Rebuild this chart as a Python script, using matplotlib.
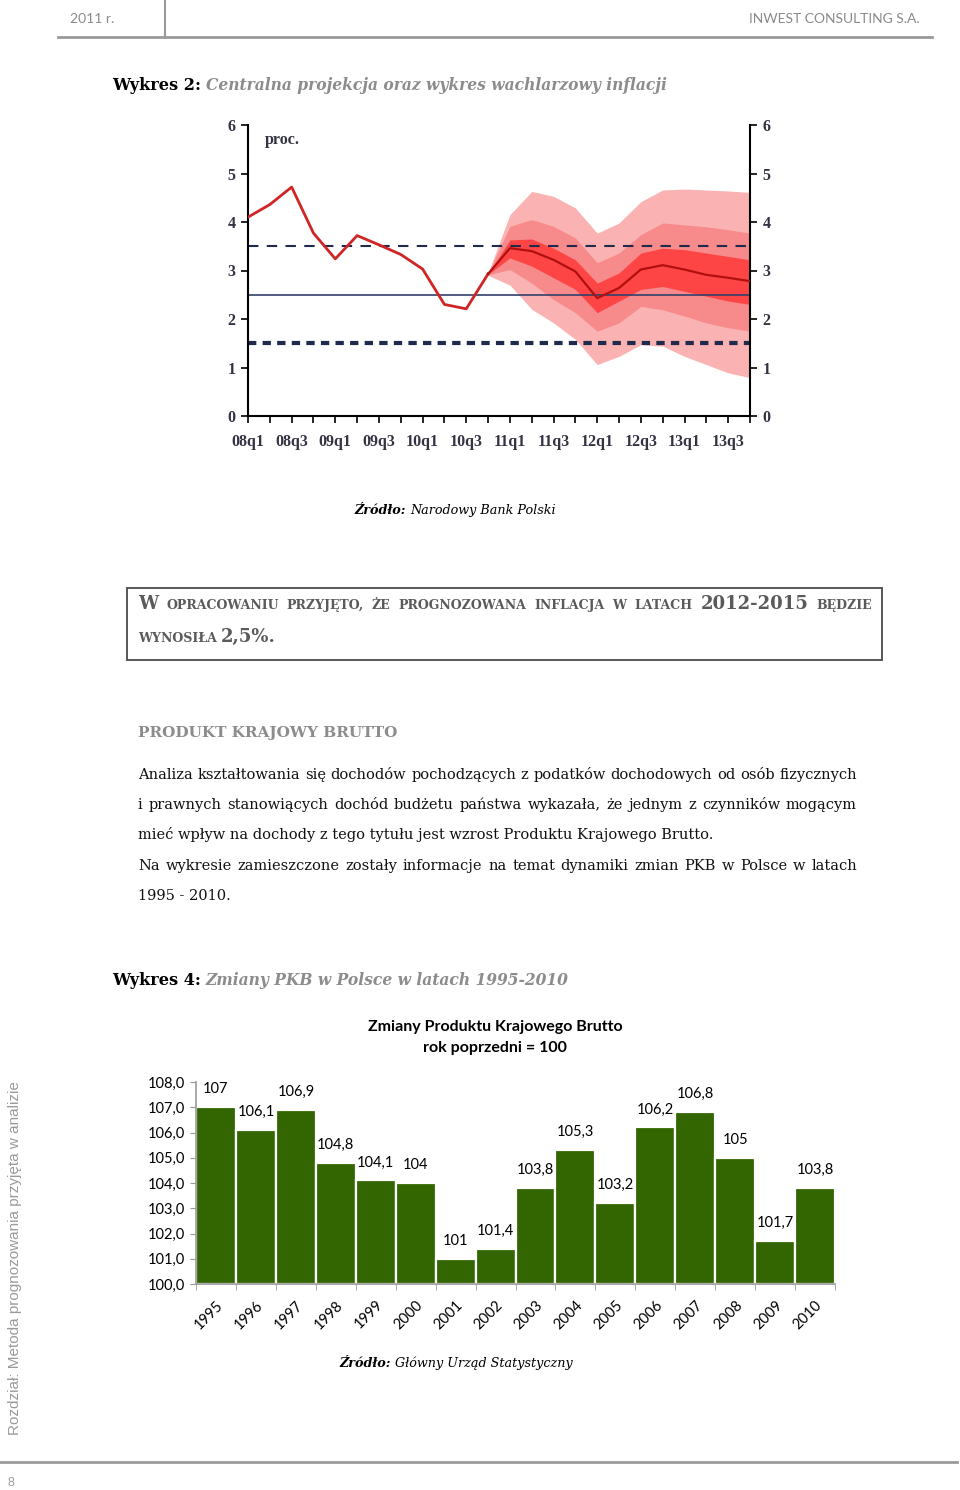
import matplotlib
matplotlib.use('Agg')
import matplotlib.pyplot as plt
import matplotlib.transforms as mtransforms
from matplotlib.patches import Rectangle
from matplotlib.lines import Line2D

# --- dane: wykres wachlarzowy inflacji (proc.) ---
kwartaly = ['08q1', '08q2', '08q3', '08q4', '09q1', '09q2', '09q3', '09q4',
            '10q1', '10q2', '10q3', '10q4', '11q1', '11q2', '11q3', '11q4',
            '12q1', '12q2', '12q3', '12q4', '13q1', '13q2', '13q3', '13q4']
inflacja = [4.1, 4.36, 4.72, 3.77, 3.24, 3.72, 3.53, 3.33, 3.03, 2.3, 2.21, 2.93]
# projekcja od 10q4 do 13q4
projekcja = [2.93, 3.46, 3.4, 3.22, 2.98, 2.43, 2.64, 3.02, 3.11, 3.02, 2.91, 2.85, 2.78]
pas_zew_gora = [2.95, 4.15, 4.63, 4.53, 4.29, 3.77, 3.98, 4.42, 4.66, 4.68, 4.66, 4.64, 4.61]
pas_zew_dol = [2.9, 2.7, 2.2, 1.92, 1.58, 1.06, 1.23, 1.47, 1.44, 1.23, 1.06, 0.89, 0.79]
pas_sr_gora = [2.94, 3.91, 4.05, 3.91, 3.67, 3.16, 3.36, 3.74, 3.98, 3.94, 3.9, 3.84, 3.77]
pas_sr_dol = [2.91, 3.02, 2.74, 2.4, 2.13, 1.75, 1.92, 2.26, 2.19, 2.06, 1.92, 1.82, 1.75]
pas_wew_gora = [2.93, 3.63, 3.65, 3.46, 3.22, 2.74, 2.95, 3.36, 3.46, 3.43, 3.36, 3.29, 3.22]
pas_wew_dol = [2.92, 3.26, 3.09, 2.85, 2.61, 2.13, 2.37, 2.61, 2.67, 2.57, 2.47, 2.37, 2.3]
cel_gorny, cel, cel_dolny = 3.5, 2.5, 1.5

# --- dane: PKB, rok poprzedni = 100 ---
lata = ['1995', '1996', '1997', '1998', '1999', '2000', '2001', '2002',
        '2003', '2004', '2005', '2006', '2007', '2008', '2009', '2010']
pkb = [107.0, 106.1, 106.9, 104.8, 104.1, 104.0, 101.0, 101.4,
       103.8, 105.3, 103.2, 106.2, 106.8, 105.0, 101.7, 103.8]

W, H = 960, 1490
fig = plt.figure(figsize=(W / 100, H / 100), dpi=100)
px = mtransforms.Affine2D().scale(1 / W, -1 / H).translate(0, 1) + fig.transFigure
SERIF = ['DejaVu Serif']
SANS = ['Lato', 'DejaVu Sans']


def box(x0, y0, x1, y1):
    return [x0 / W, 1 - y1 / H, (x1 - x0) / W, (y1 - y0) / H]


def runs(x, y, parts, ha='left'):
    # parts: (tekst, odstep_po, styl)
    r = fig.canvas.get_renderer()
    items = [fig.text(0, y, t, transform=px, va='baseline', **kw) for t, g, kw in parts]
    ws = [it.get_window_extent(r).width for it in items]
    total = sum(ws) + sum(g for t, g, kw in parts[:-1])
    if ha == 'center':
        x = x - total / 2
    for it, w, (t, g, kw) in zip(items, ws, parts):
        it.set_x(x)
        x += w + g


def justify(x0, x1, y, words, gap=None):
    r = fig.canvas.get_renderer()
    items = [fig.text(0, y, t, transform=px, va='baseline', **kw) for t, kw in words]
    ws = [it.get_window_extent(r).width for it in items]
    if gap is None:
        gap = (x1 - x0 - sum(ws)) / (len(ws) - 1)
    x = x0
    for it, w in zip(items, ws):
        it.set_x(x)
        x += w + gap


# --- naglowek strony ---
fig.add_artist(Line2D([58, 932], [37, 37], transform=px, color='#9a9a9a', lw=2))
fig.add_artist(Line2D([165, 165], [0, 37], transform=px, color='#9a9a9a', lw=1.5))
fig.text(70, 23, '2011 r.', transform=px, family=SANS, fontsize=10, color='#8a8a8a')
fig.text(920, 23, 'INWEST CONSULTING S.A.', transform=px, family=SANS, fontsize=10,
         color='#8a8a8a', ha='right')

tytul_b = dict(family=SERIF, fontsize=11.6, weight='bold', color='black')
tytul_i = dict(family=SERIF, fontsize=11.2, style='italic', weight='bold', color='#8c8c8c')
runs(112, 90, [('Wykres 2:', 5, tytul_b),
               ('Centralna projekcja oraz wykres wachlarzowy inflacji', 0, tytul_i)])

# --- wykres wachlarzowy ---
ax = fig.add_axes(box(248, 125, 750, 416))
xp = range(len(inflacja) - 1, len(kwartaly))
ax.fill_between(xp, pas_zew_dol, pas_zew_gora, color='#fbb2b2', lw=0, zorder=1)
ax.fill_between(xp, pas_sr_dol, pas_sr_gora, color='#f78a8a', lw=0, zorder=1)
ax.fill_between(xp, pas_wew_dol, pas_wew_gora, color='#fd4545', lw=0, zorder=1)
ax.axhline(cel_gorny, color='#1f2a4d', lw=1.5, dashes=(5, 4), zorder=2)
ax.axhline(cel, color='#33406b', lw=1.2, zorder=2)
ax.axhline(cel_dolny, color='#1f2a4d', lw=3, dashes=(2, 1.5), zorder=2)
ax.plot(range(len(inflacja)), inflacja, color='#d02525', lw=2, zorder=3)
ax.plot(xp, projekcja, color='#b01010', lw=1.6, zorder=3)
ax.set_xlim(0, len(kwartaly) - 1)
ax.set_ylim(0, 6)
ax.set_yticks(range(0, 7))
ax.set_xticks(range(len(kwartaly)))
ax.set_xticklabels([k if i % 2 == 0 else '' for i, k in enumerate(kwartaly)])
ax.tick_params(direction='out', length=5, width=1.2, color='black', labelsize=11.5,
               right=True, labelright=True, pad=4)
ax.tick_params(axis='x', pad=8)
for lab in ax.get_xticklabels() + ax.get_yticklabels():
    lab.set_family(['Liberation Serif'])
    lab.set_weight('bold')
    lab.set_color('#333344')
ax.spines['top'].set_visible(False)
for s in ['left', 'right', 'bottom']:
    ax.spines[s].set_linewidth(1.5)
ax.text(0.75, 5.7, 'proc.', family=['Liberation Serif'], weight='bold', fontsize=11.5,
        color='#333344', va='center')

zrodlo_b = dict(family=SERIF, fontsize=9.2, style='italic', weight='bold')
zrodlo_i = dict(family=SERIF, fontsize=9.2, style='italic')
runs(455, 514, [('Źródło:', 4, zrodlo_b), ('Narodowy Bank Polski', 0, zrodlo_i)], ha='center')

# --- ramka z wnioskiem ---
fig.add_artist(Rectangle((127, 588), 755, 72, transform=px, fill=False,
                         edgecolor='#4a4a4a', lw=1.3))
duze = dict(family=SERIF, fontsize=13, weight='bold', color='#5a5a5a')
male = dict(family=SERIF, fontsize=9, weight='bold', color='#5a5a5a')
justify(138, 872, 609, [('W', duze), ('OPRACOWANIU', male), ('PRZYJĘTO,', male), ('ŻE', male),
                        ('PROGNOZOWANA', male), ('INFLACJA', male), ('W', male), ('LATACH', male),
                        ('2012-2015', duze), ('BĘDZIE', male)])
justify(138, 872, 642, [('WYNOSIŁA', male), ('2,5%.', duze)], gap=4)

# --- tekst ---
fig.text(138, 737, 'PRODUKT KRAJOWY BRUTTO', transform=px, family=SERIF, fontsize=11,
         weight='bold', color='#8c8c8c')
tekst = dict(family=SERIF, fontsize=10.5, color='#111111')
linie = ['Analiza kształtowania się dochodów pochodzących z podatków dochodowych od osób fizycznych',
         'i prawnych stanowiących dochód budżetu państwa wykazała, że jednym z czynników mogącym',
         'mieć wpływ na dochody z tego tytułu jest wzrost Produktu Krajowego Brutto.',
         'Na wykresie zamieszczone zostały informacje na temat dynamiki zmian PKB w Polsce w latach',
         '1995 - 2010.']
do_justowania = [True, True, False, True, False]
for i, (ln, j) in enumerate(zip(linie, do_justowania)):
    y = 779 + i * 30.2
    if j:
        justify(138, 857, y, [(w, tekst) for w in ln.split()])
    else:
        fig.text(138, y, ln, transform=px, va='baseline', **tekst)

runs(112, 985, [('Wykres 4:', 5, tytul_b),
                ('Zmiany PKB w Polsce w latach 1995-2010', 0, tytul_i)])

# --- wykres PKB ---
fig.text(495, 1027, 'Zmiany Produktu Krajowego Brutto', transform=px, ha='center', va='center',
         family=SANS, fontsize=11.5, weight='bold')
fig.text(495, 1048, 'rok poprzedni = 100', transform=px, ha='center', va='center',
         family=SANS, fontsize=11.5, weight='bold')

bx = fig.add_axes(box(196, 1082, 835, 1284))
pos = range(len(lata))
bx.bar(pos, [v - 100 for v in pkb], bottom=100, width=1.0, color='#336600',
       edgecolor='white', lw=1.6, zorder=2)
for i, v in zip(pos, pkb):
    bx.annotate(f'{v:g}'.replace('.', ','), (i, v), xytext=(0, 13), textcoords='offset points',
                ha='center', va='center', family=SANS, fontsize=10.5, color='black')
bx.set_xlim(-0.5, len(lata) - 0.5)
bx.set_ylim(100, 108)
bx.set_yticks(range(100, 109))
bx.set_yticklabels([f'{v},0' for v in range(100, 109)])
bx.set_xticks(pos)
bx.set_xticklabels(lata, rotation=45, ha='right', rotation_mode='anchor')
bx.set_xticks([i - 0.5 for i in range(len(lata) + 1)], minor=True)
bx.tick_params(axis='x', which='major', length=0, pad=10)
bx.tick_params(axis='x', which='minor', length=4, color='#999999')
bx.tick_params(axis='y', length=4, color='#999999', pad=4)
for lab in bx.get_xticklabels() + bx.get_yticklabels():
    lab.set_family(SANS)
    lab.set_fontsize(10.5)
for s in ['top', 'right']:
    bx.spines[s].set_visible(False)
for s in ['left', 'bottom']:
    bx.spines[s].set_color('#999999')
    bx.spines[s].set_linewidth(1.2)

runs(456, 1367, [('Źródło:', 4, zrodlo_b), ('Główny Urząd Statystyczny', 0, zrodlo_i)],
     ha='center')

# --- stopka ---
fig.text(15, 1258, 'Rozdział: Metoda prognozowania przyjęta w analizie', transform=px,
         rotation=90, ha='center', va='center', family=['Liberation Sans'], fontsize=11,
         color='#9a9a9a')
fig.add_artist(Line2D([0, 957], [1462, 1462], transform=px, color='#9a9a9a', lw=2))
fig.text(8, 1483, '8', transform=px, va='center', family=['Liberation Sans'], fontsize=9,
         color='#9a9a9a')

fig.savefig('out.png', dpi=100)
